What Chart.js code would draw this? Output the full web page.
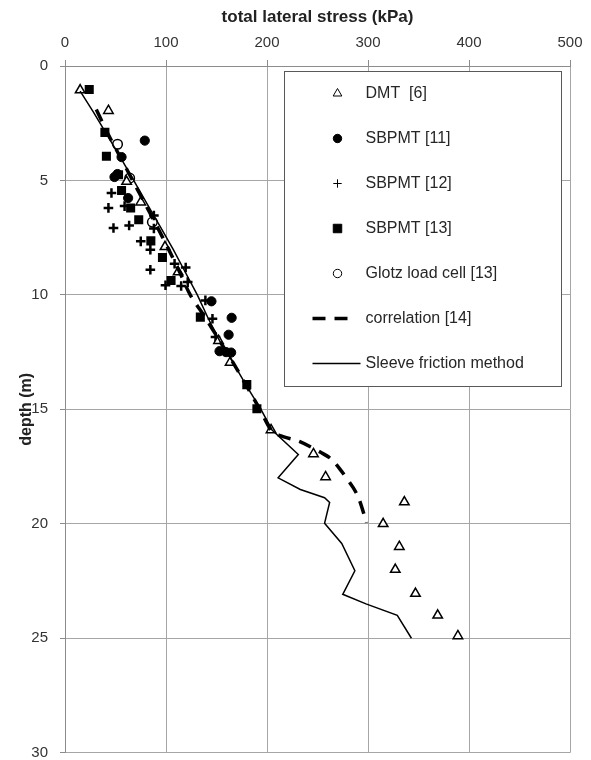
<!DOCTYPE html>
<html>
<head>
<meta charset="utf-8">
<title>total lateral stress vs depth</title>
<script src="https://cdn.jsdelivr.net/npm/chart.js@4.4.0/dist/chart.umd.min.js"></script>
<style>
  html, body { margin: 0; padding: 0; background: #fff; overflow: hidden; }
  canvas { display: block; }
</style>
</head>
<body>
<canvas id="chart" width="591" height="760"></canvas>
<script>
// x = total lateral stress (kPa), y = depth (m)
const dmtStress = [15, 43, 61, 75, 99, 112, 152, 163.5, 204, 246, 258, 336, 315, 331, 327, 347, 369, 389];
const dmtDepth = [1.05, 1.95, 5.05, 5.95, 7.9, 9.0, 12.0, 12.95, 15.9, 16.95, 17.95, 19.05, 20.0, 21.0, 22.0, 23.05, 24.0, 24.9];

const sb11Stress = [79, 56, 49, 52, 62.5, 145, 165, 162, 153, 159.5, 164.5];
const sb11Depth = [3.26, 3.98, 4.85, 4.72, 5.77, 10.28, 11.0, 11.74, 12.46, 12.5, 12.52];

const sb12Stress = [46, 43, 59, 88, 48, 63.5, 88, 75, 84.5, 108.5, 84.5, 119.5, 121.5, 99.5, 115, 139, 146, 149];
const sb12Depth = [5.55, 6.2, 6.12, 6.53, 7.08, 6.97, 7.1, 7.66, 8.03, 8.64, 8.9, 8.8, 9.44, 9.58, 9.61, 10.24, 11.04, 11.84];

const sb13Stress = [24, 39.5, 41, 53, 56, 65, 73, 85, 96.5, 105, 134, 180, 190];
const sb13Depth = [1.03, 2.9, 3.94, 4.75, 5.44, 6.2, 6.72, 7.64, 8.37, 9.37, 10.97, 13.92, 14.97];

const glotzStress = [52, 64, 86.5];
const glotzDepth = [3.42, 4.9, 6.82];

const corrStress = [31, 43, 55, 67, 79, 91, 102.5, 113.5, 124, 139, 153, 167, 180, 193, 204, 213, 232, 254, 263, 272, 285, 291, 298.5];
const corrDepth = [1.9, 3, 4, 5, 6, 7, 8, 9, 10, 11, 12, 13, 14, 15, 15.9, 16.15, 16.4, 16.9, 17.15, 17.6, 18.4, 18.9, 19.95];

const sleeveStress = [15, 28, 41.5, 55, 68, 81, 94, 107, 119, 131, 141.5, 153, 167, 180, 194, 205, 231, 211, 233, 257, 262, 257, 274, 287, 275, 298, 329, 343];
const sleeveDepth = [1.1, 2, 3, 4, 5, 6, 7, 8, 9, 10, 11, 12, 13, 14, 15, 15.9, 16.97, 17.99, 18.5, 18.86, 19.07, 19.98, 20.86, 22.05, 23.08, 23.5, 24.0, 25.0];

const stressTicks = [0, 100, 200, 300, 400, 500];
const depthTicks = [0, 5, 10, 15, 20, 25, 30];

function pts(xs, ys) {
    return xs.map((x, i) => ({ x: x, y: ys[i] }));
}

Chart.defaults.font.family = "'Liberation Sans', Arial, sans-serif";
Chart.defaults.color = "#333";

// legend drawn as a boxed list inside the plot, like the original
const boxLegend = {
    id: "boxLegend",
    afterDatasetsDraw(chart) {
        const ctx = chart.ctx;
        const area = chart.chartArea;
        const left = area.left + 219.5;
        const top = area.top + 5.5;
        ctx.save();
        ctx.fillStyle = "#fff";
        ctx.fillRect(left, top, 277, 315);
        ctx.strokeStyle = "#595959";
        ctx.lineWidth = 1;
        ctx.strokeRect(left, top, 277, 315);

        ctx.font = "16px 'Liberation Sans', Arial, sans-serif";
        ctx.textBaseline = "middle";
        chart.data.datasets.forEach((ds, i) => {
            const y = top + 22 + i * 45;
            const mx = left + 53;
            ctx.strokeStyle = "#000";
            ctx.fillStyle = ds.backgroundColor;
            if (ds.showLine) {
                ctx.lineWidth = ds.borderWidth;
                ctx.setLineDash(ds.borderDash || []);
                ctx.beginPath();
                ctx.moveTo(left + 28, y);
                ctx.lineTo(ds.borderDash ? left + 66 : left + 76, y);
                ctx.stroke();
                ctx.setLineDash([]);
            } else {
                Chart.helpers.drawPoint(ctx, {
                    pointStyle: ds.pointStyle,
                    radius: ds.legendRadius,
                    borderWidth: 1.3,
                    rotation: 0
                }, mx, y);
            }
            ctx.fillStyle = "#262626";
            ctx.fillText(ds.label, left + 81, y);
        });
        ctx.restore();
    }
};

new Chart(document.getElementById("chart"), {
    type: "scatter",
    data: {
        datasets: [
            {
                label: "DMT  [6]",
                data: pts(dmtStress, dmtDepth),
                pointStyle: "triangle",
                pointRadius: 5.5,
                borderWidth: 1.5,
                borderColor: "#000",
                backgroundColor: "#fff",
                legendRadius: 5,
                order: 1
            },
            {
                label: "SBPMT [11]",
                data: pts(sb11Stress, sb11Depth),
                pointStyle: "circle",
                pointRadius: 4.6,
                borderWidth: 1,
                borderColor: "#000",
                backgroundColor: "#000",
                legendRadius: 4.2,
                order: 1
            },
            {
                label: "SBPMT [12]",
                data: pts(sb12Stress, sb12Depth),
                pointStyle: "cross",
                pointRadius: 4.8,
                borderWidth: 2.5,
                borderColor: "#000",
                backgroundColor: "#000",
                legendRadius: 4.2,
                order: 1
            },
            {
                label: "SBPMT [13]",
                data: pts(sb13Stress, sb13Depth),
                pointStyle: "rect",
                pointRadius: 6.4,
                borderWidth: 0,
                borderColor: "#000",
                backgroundColor: "#000",
                legendRadius: 6,
                order: 1
            },
            {
                label: "Glotz load cell [13]",
                data: pts(glotzStress, glotzDepth),
                pointStyle: "circle",
                pointRadius: 4.8,
                borderWidth: 1.5,
                borderColor: "#000",
                backgroundColor: "#fff",
                legendRadius: 4.2,
                order: 1
            },
            {
                label: "correlation [14]",
                data: pts(corrStress, corrDepth),
                showLine: true,
                pointRadius: 0,
                borderColor: "#000",
                backgroundColor: "#000",
                borderWidth: 3.5,
                borderDash: [13, 9],
                tension: 0.3,
                order: 0
            },
            {
                label: "Sleeve friction method",
                data: pts(sleeveStress, sleeveDepth),
                showLine: true,
                pointRadius: 0,
                borderColor: "#000",
                backgroundColor: "#000",
                borderWidth: 1.5,
                tension: 0,
                order: 0
            }
        ]
    },
    options: {
        responsive: false,
        animation: false,
        layout: { padding: { right: 21, bottom: 5 } },
        plugins: {
            legend: { display: false },
            tooltip: { enabled: false }
        },
        scales: {
            x: {
                type: "linear",
                position: "top",
                min: 0,
                max: 500,
                afterBuildTicks: (s) => { s.ticks = stressTicks.map(v => ({ value: v })); },
                afterFit: (s) => { s.height = 66; },
                ticks: { font: { size: 15 }, color: "#333", padding: 8 },
                grid: { color: "#a6a6a6", tickLength: 6, tickColor: "#8c8c8c" },
                border: { color: "#8c8c8c" },
                title: {
                    display: true,
                    text: "total lateral stress (kPa)",
                    font: { size: 17, weight: "bold" },
                    color: "#222",
                    padding: { top: 7, bottom: 0 }
                }
            },
            y: {
                type: "linear",
                position: "left",
                reverse: true,
                min: 0,
                max: 30,
                afterBuildTicks: (s) => { s.ticks = depthTicks.map(v => ({ value: v })); },
                afterFit: (s) => {
                    s.width = 65;
                    s.paddingTop = 0;
                    s.paddingBottom = 0;
                },
                ticks: { font: { size: 15 }, color: "#333", padding: 12 },
                grid: { color: "#a6a6a6", tickLength: 5, tickColor: "#8c8c8c" },
                border: { color: "#8c8c8c" },
                title: {
                    display: true,
                    text: "depth (m)",
                    font: { size: 16, weight: "bold" },
                    color: "#222",
                    padding: { top: 17, bottom: 0 }
                }
            }
        }
    },
    plugins: [boxLegend]
});
</script>
</body>
</html>
